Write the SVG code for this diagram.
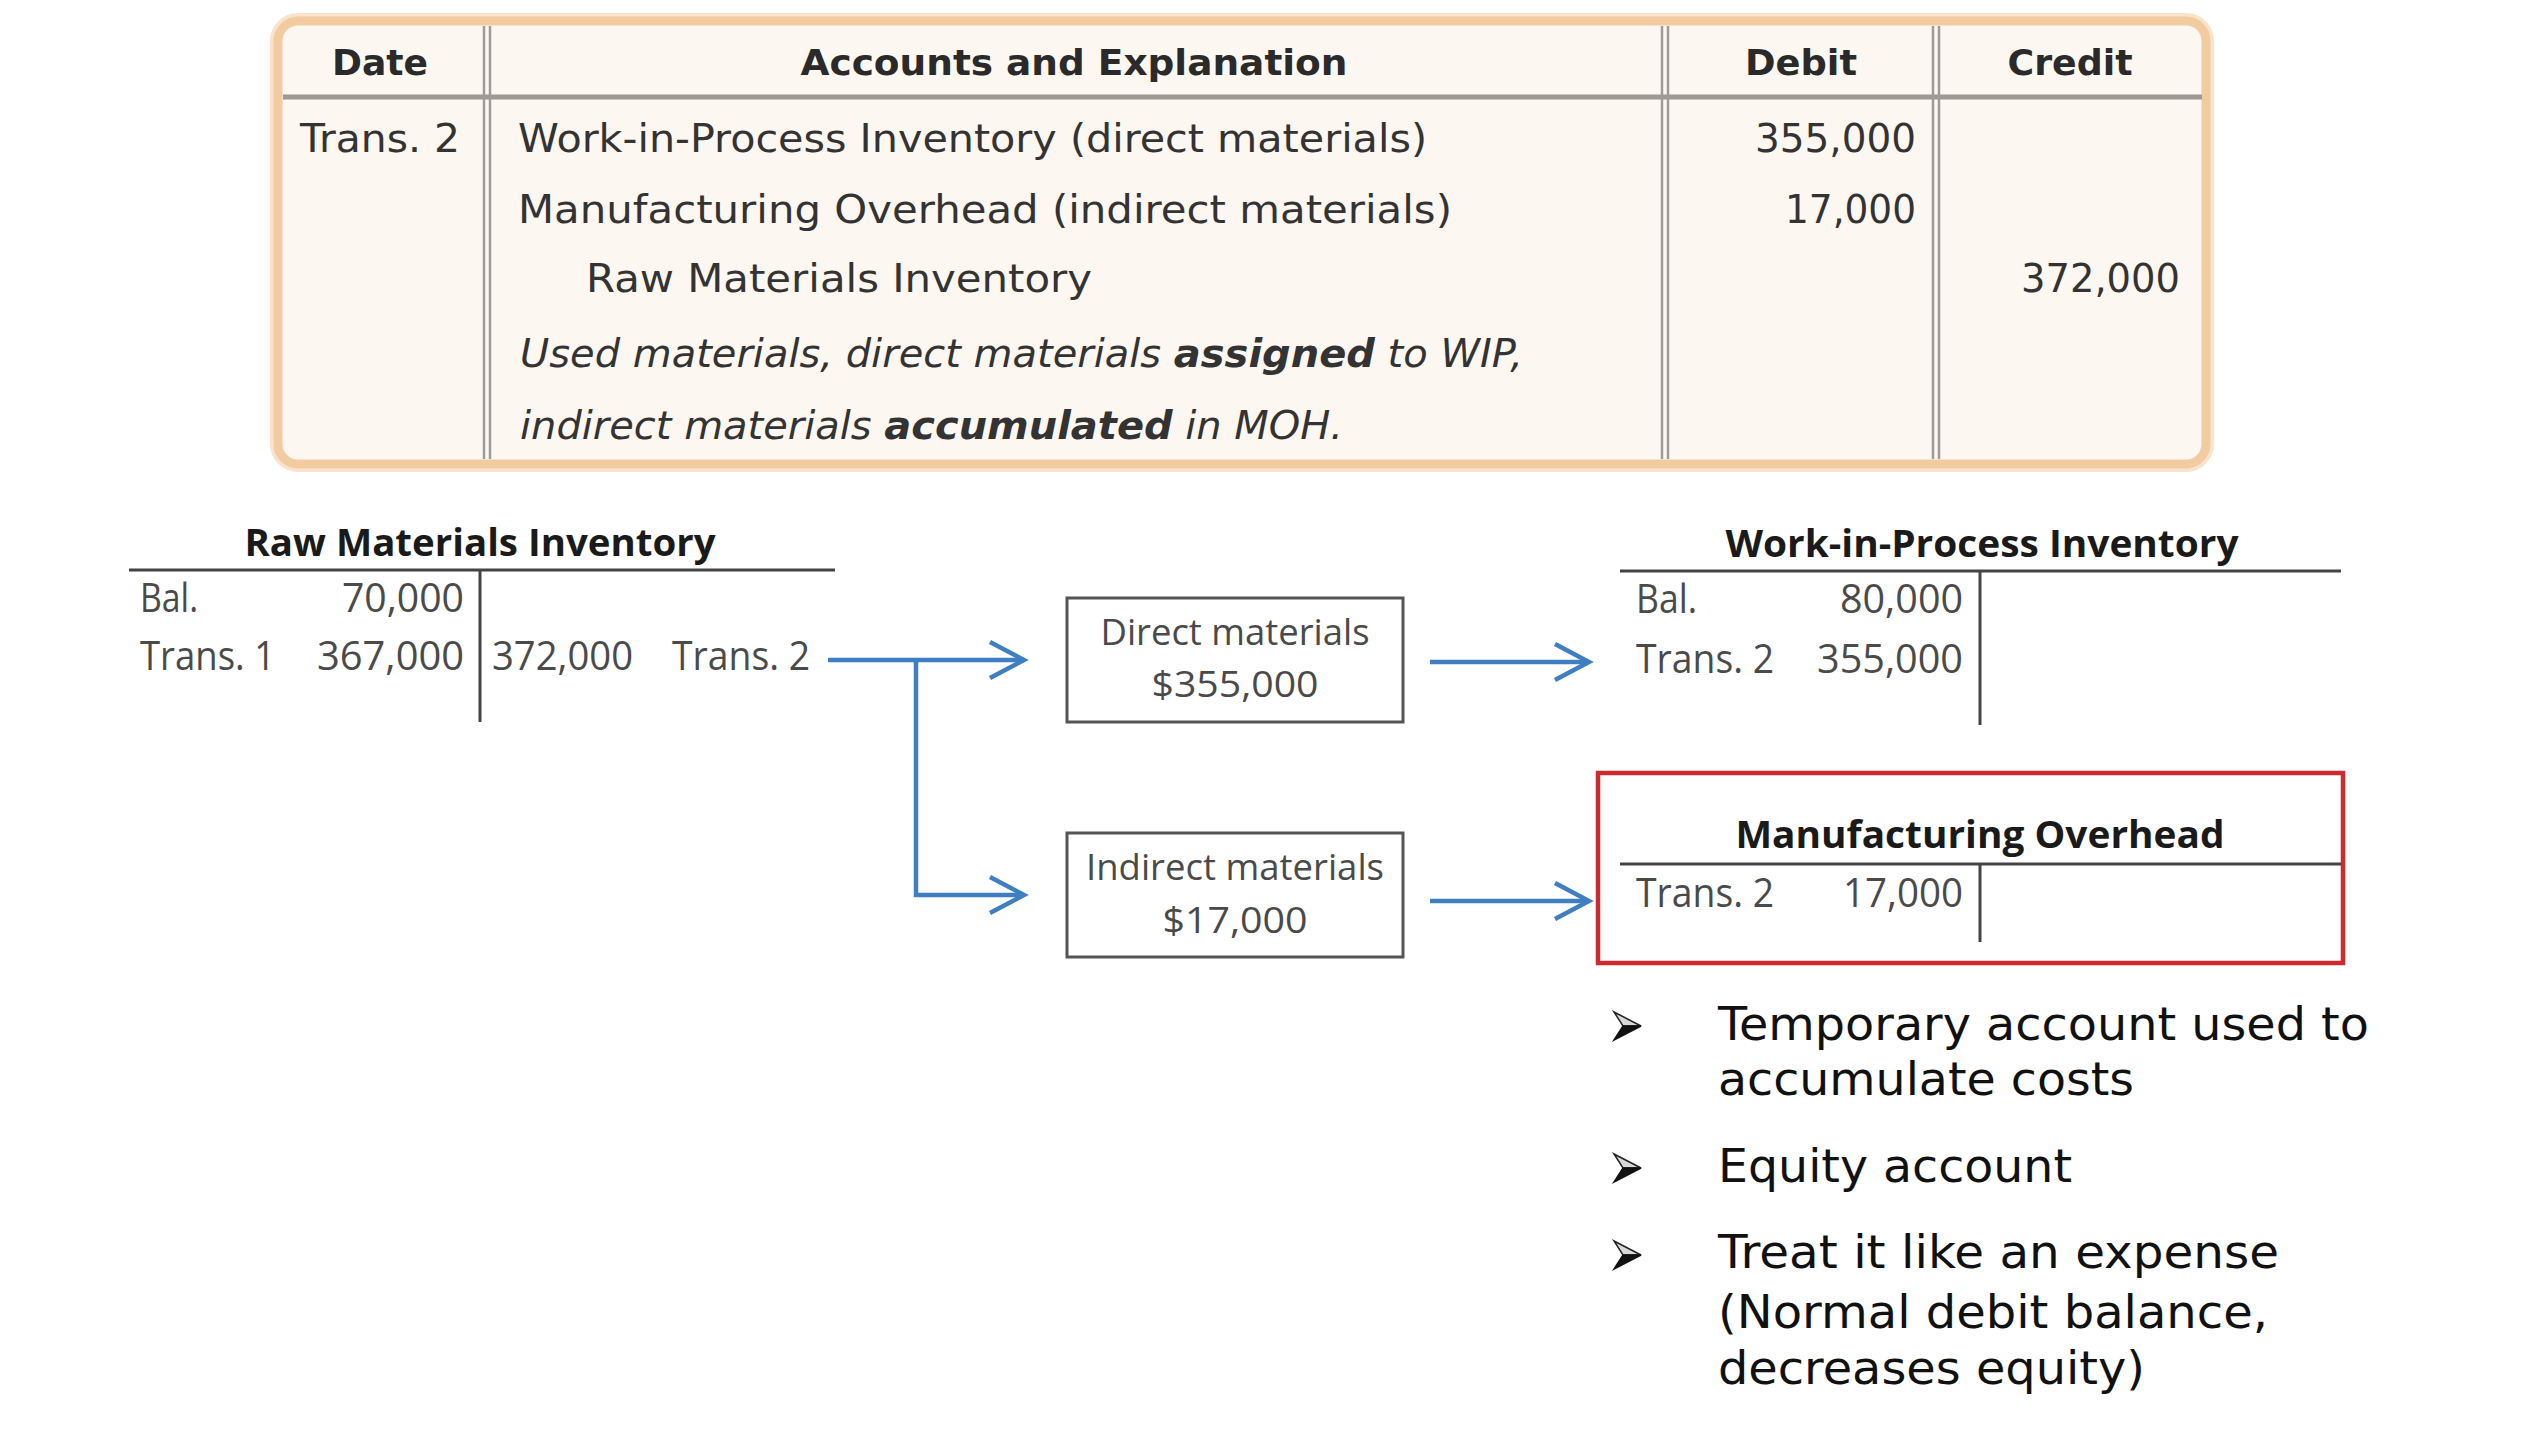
<svg xmlns="http://www.w3.org/2000/svg" xmlns:xlink="http://www.w3.org/1999/xlink" width="2536" height="1434" viewBox="0 0 2536 1434">
<style>
.jt{font-family:"DejaVu Sans",Verdana,sans-serif;font-size:39px;fill:#333}
.jh{font-family:"DejaVu Sans",Verdana,sans-serif;font-size:36px;font-weight:bold;fill:#2a2a2a}
.ji{font-style:italic}
.jb{font-weight:bold}
.grid{stroke:#a19b97;stroke-width:2.5;fill:none}
.tt{font-family:"Open Sans","Noto Sans",sans-serif;font-size:38px;font-weight:bold;fill:#1a1a1a}
.tv{font-family:"Open Sans","Noto Sans",sans-serif;font-size:40px;fill:#4a4a4a}
.bv{font-family:"Open Sans","Noto Sans",sans-serif;font-size:37px;fill:#4a4a4a}
.tl{stroke:#444;stroke-width:3;fill:none}
.box{fill:#fff;stroke:#555;stroke-width:3}
.conn{stroke:#3f7fc1;stroke-width:4.5;fill:none;stroke-linejoin:miter}
.bt{font-family:"DejaVu Sans",Verdana,sans-serif;font-size:47px;fill:#111}
</style>
<defs>
<g id="bul">
<polygon points="0,-14 27,0 9,0" fill="#d8d8d8" stroke="#222" stroke-width="1.5"/>
<polygon points="9,0 27,0 0,14" fill="#111" stroke="#111" stroke-width="1.5"/>
</g>
</defs>
<rect width="2536" height="1434" fill="#fff"/>

<g id="journal">
<rect x="278" y="21" width="1928" height="443" rx="20" fill="#fdf7f2" stroke="#f9e3cc" stroke-width="16"/>
<rect x="278" y="21" width="1928" height="443" rx="20" fill="#fdf7f2" stroke="#f3cba1" stroke-width="9"/>
<line x1="283" y1="97" x2="2202" y2="97" stroke="#9e9894" stroke-width="5"/>
<line class="grid" x1="484" y1="26" x2="484" y2="459"/>
<line class="grid" x1="490" y1="26" x2="490" y2="459"/>
<line class="grid" x1="1662" y1="26" x2="1662" y2="459"/>
<line class="grid" x1="1668" y1="26" x2="1668" y2="459"/>
<line class="grid" x1="1933" y1="26" x2="1933" y2="459"/>
<line class="grid" x1="1939" y1="26" x2="1939" y2="459"/>
<text class="jh" x="380" y="75" text-anchor="middle" textLength="96" lengthAdjust="spacingAndGlyphs">Date</text>
<text class="jh" x="1074" y="75" text-anchor="middle" textLength="547" lengthAdjust="spacingAndGlyphs">Accounts and Explanation</text>
<text class="jh" x="1801" y="75" text-anchor="middle" textLength="112" lengthAdjust="spacingAndGlyphs">Debit</text>
<text class="jh" x="2070" y="75" text-anchor="middle" textLength="125" lengthAdjust="spacingAndGlyphs">Credit</text>
<text class="jt" x="300" y="152" textLength="160" lengthAdjust="spacingAndGlyphs">Trans. 2</text>
<text class="jt" x="518" y="152" textLength="909" lengthAdjust="spacingAndGlyphs">Work-in-Process Inventory (direct materials)</text>
<text class="jt" x="518" y="223" textLength="934" lengthAdjust="spacingAndGlyphs">Manufacturing Overhead (indirect materials)</text>
<text class="jt" x="586" y="292" textLength="506" lengthAdjust="spacingAndGlyphs">Raw Materials Inventory</text>
<text class="jt ji" x="520" y="367" textLength="1003" lengthAdjust="spacingAndGlyphs">Used materials, direct materials <tspan class="jb">assigned</tspan> to WIP,</text>
<text class="jt ji" x="520" y="439" textLength="823" lengthAdjust="spacingAndGlyphs">indirect materials <tspan class="jb">accumulated</tspan> in MOH.</text>
<text class="jt" x="1916" y="152" text-anchor="end" textLength="161" lengthAdjust="spacingAndGlyphs">355,000</text>
<text class="jt" x="1916" y="223" text-anchor="end" textLength="131" lengthAdjust="spacingAndGlyphs">17,000</text>
<text class="jt" x="2180" y="292" text-anchor="end" textLength="159" lengthAdjust="spacingAndGlyphs">372,000</text>
</g>

<g id="raw-materials">
<text class="tt" x="480" y="556" text-anchor="middle" textLength="471" lengthAdjust="spacingAndGlyphs">Raw Materials Inventory</text>
<line class="tl" x1="129" y1="570" x2="835" y2="570"/>
<line class="tl" x1="480" y1="570" x2="480" y2="722"/>
<text class="tv" x="140" y="612" textLength="58" lengthAdjust="spacingAndGlyphs">Bal.</text>
<text class="tv" x="464" y="612" text-anchor="end" textLength="122" lengthAdjust="spacingAndGlyphs">70,000</text>
<text class="tv" x="140" y="670" textLength="135" lengthAdjust="spacingAndGlyphs">Trans. 1</text>
<text class="tv" x="464" y="670" text-anchor="end" textLength="147" lengthAdjust="spacingAndGlyphs">367,000</text>
<text class="tv" x="492" y="670" textLength="141" lengthAdjust="spacingAndGlyphs">372,000</text>
<text class="tv" x="672" y="670" textLength="138" lengthAdjust="spacingAndGlyphs">Trans. 2</text>
</g>

<g id="direct-materials">
<rect class="box" x="1067" y="598" width="336" height="124"/>
<text class="bv" x="1235" y="645" text-anchor="middle" textLength="269" lengthAdjust="spacingAndGlyphs">Direct materials</text>
<text class="bv" x="1235" y="697" text-anchor="middle" textLength="167" lengthAdjust="spacingAndGlyphs">$355,000</text>
</g>

<g id="indirect-materials">
<rect class="box" x="1067" y="833" width="336" height="124"/>
<text class="bv" x="1235" y="880" text-anchor="middle" textLength="298" lengthAdjust="spacingAndGlyphs">Indirect materials</text>
<text class="bv" x="1235" y="933" text-anchor="middle" textLength="145" lengthAdjust="spacingAndGlyphs">$17,000</text>
</g>

<g id="wip">
<text class="tt" x="1982" y="557" text-anchor="middle" textLength="513" lengthAdjust="spacingAndGlyphs">Work-in-Process Inventory</text>
<line class="tl" x1="1620" y1="571" x2="2341" y2="571"/>
<line class="tl" x1="1980" y1="571" x2="1980" y2="725"/>
<text class="tv" x="1636" y="613" textLength="61" lengthAdjust="spacingAndGlyphs">Bal.</text>
<text class="tv" x="1963" y="613" text-anchor="end" textLength="123" lengthAdjust="spacingAndGlyphs">80,000</text>
<text class="tv" x="1636" y="673" textLength="138" lengthAdjust="spacingAndGlyphs">Trans. 2</text>
<text class="tv" x="1963" y="673" text-anchor="end" textLength="146" lengthAdjust="spacingAndGlyphs">355,000</text>
</g>

<g id="moh">
<rect x="1598" y="773" width="745" height="190" fill="none" stroke="#cc2a30" stroke-width="4.5"/>
<text class="tt" x="1980" y="848" text-anchor="middle" textLength="489" lengthAdjust="spacingAndGlyphs">Manufacturing Overhead</text>
<line class="tl" x1="1620" y1="864" x2="2341" y2="864"/>
<line class="tl" x1="1980" y1="864" x2="1980" y2="942"/>
<text class="tv" x="1636" y="907" textLength="138" lengthAdjust="spacingAndGlyphs">Trans. 2</text>
<text class="tv" x="1963" y="907" text-anchor="end" textLength="120" lengthAdjust="spacingAndGlyphs">17,000</text>
</g>

<g id="connectors">
<path class="conn" d="M828 660 H1021"/>
<polyline class="conn" points="990,642 1024,660 990,678"/>
<path class="conn" d="M916 660 V895 H1021"/>
<polyline class="conn" points="990,877 1024,895 990,913"/>
<path class="conn" d="M1430 662 H1586"/>
<polyline class="conn" points="1555,644 1589,662 1555,680"/>
<path class="conn" d="M1430 901 H1586"/>
<polyline class="conn" points="1555,883 1589,901 1555,919"/>
</g>

<g id="bullets">
<use xlink:href="#bul" transform="translate(1614,1026)"/>
<use xlink:href="#bul" transform="translate(1614,1168)"/>
<use xlink:href="#bul" transform="translate(1614,1255)"/>
<text class="bt" x="1718" y="1040" textLength="651" lengthAdjust="spacingAndGlyphs">Temporary account used to</text>
<text class="bt" x="1718" y="1095" textLength="416" lengthAdjust="spacingAndGlyphs">accumulate costs</text>
<text class="bt" x="1718" y="1182" textLength="354" lengthAdjust="spacingAndGlyphs">Equity account</text>
<text class="bt" x="1718" y="1268" textLength="561" lengthAdjust="spacingAndGlyphs">Treat it like an expense</text>
<text class="bt" x="1718" y="1328" textLength="550" lengthAdjust="spacingAndGlyphs">(Normal debit balance,</text>
<text class="bt" x="1718" y="1384" textLength="427" lengthAdjust="spacingAndGlyphs">decreases equity)</text>
</g>
</svg>
